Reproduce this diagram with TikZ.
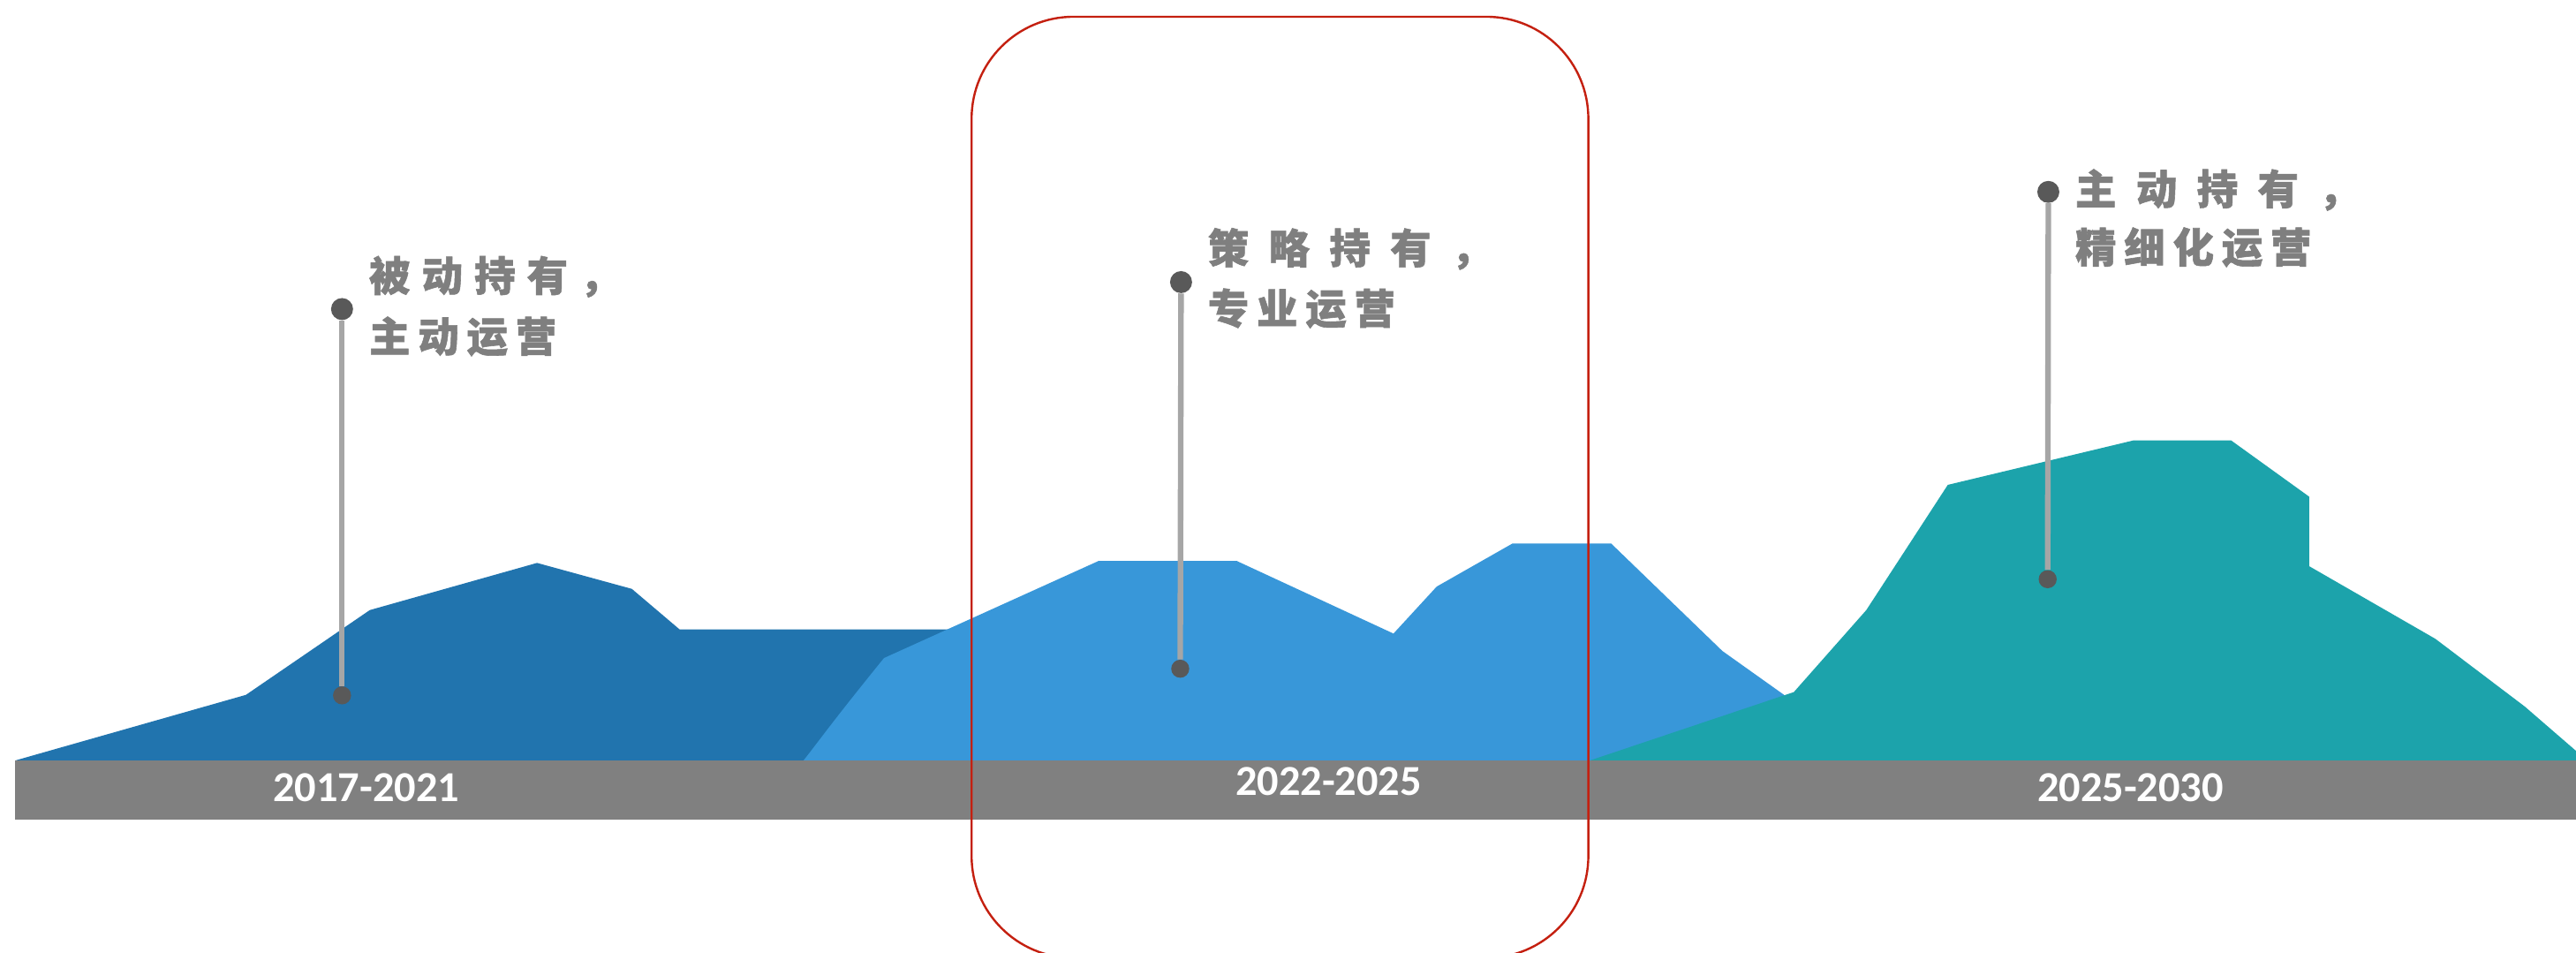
\documentclass[tikz,border=0pt]{standalone}
\usepackage{fontspec}
\newfontfamily\cjk{Noto Sans CJK SC}[BoldFeatures={FakeBold=1.2}]
\newfontfamily\yearfont{Carlito}
\definecolor{darkblue}{HTML}{2174AE}
\definecolor{lightblue}{HTML}{3897D9}
\definecolor{teal}{HTML}{1CA3AB}
\definecolor{bargray}{HTML}{808080}
\definecolor{pingray}{HTML}{A6A6A6}
\definecolor{dotgray}{HTML}{595959}
\definecolor{txtgray}{HTML}{7F7F7F}
\definecolor{framered}{HTML}{C42010}
\newlength\cjkgap
\newcommand\cg{\hspace{\cjkgap}}
\begin{document}
\begin{tikzpicture}[x=1pt,y=-1pt,
  cjktext/.style={text=txtgray, font=\cjk\bfseries\fontsize{25pt}{25pt}\selectfont, inner sep=0pt, anchor=west},
  yeartext/.style={text=white, font=\yearfont\bfseries\fontsize{26pt}{26pt}\selectfont, inner sep=0pt},
  pinline/.style={draw=pingray, line width=3.4pt},
  topdot/.style={circle, fill=dotgray, minimum size=13.4pt, inner sep=0pt},
  botdot/.style={circle, fill=dotgray, minimum size=11pt, inner sep=0pt},
  redframe/.style={draw=framered, line width=1.3pt, rounded corners=62pt}]
\useasboundingbox (0,0) rectangle (1568,580);
\clip (0,0) rectangle (1568,580);
% mountains
\fill[darkblue] (9.4,462.8) -- (149.7,422.9) -- (225.1,371.3) -- (326.9,342.6) -- (384.6,358.4) -- (413.7,383.1) -- (592,383.1) -- (592,462.8) -- cycle;
\fill[lightblue] (489.1,462.8) .. controls (497,453) and (506,440) .. (538.1,400.5) -- (668.7,341.4) -- (752.8,341.4) -- (848.2,385.6) -- (874.5,357) -- (920.6,330.8) -- (980.7,330.8) -- (1048.4,396.2) -- (1085.5,422.6) -- (1092,428) -- (1092,462.8) -- cycle;
\fill[teal] (967.9,462.8) -- (1091.9,421.2) -- (1136,371.3) -- (1164,328.3) -- (1185.6,295.1) -- (1298.8,268) -- (1358,268) -- (1405.6,302.3) -- (1405.6,344.6) -- (1482.4,388.8) -- (1536.8,430) -- (1568,457) -- (1568,462.8) -- cycle;
% bar
\fill[bargray] (9.4,462.8) rectangle (1568,498.7);
% years
\node[yeartext] (y1) at (222.9,479.3) {2017-2021};
\node[yeartext] (y2) at (808.7,475.5) {2022-2025};
\node[yeartext] (y3) at (1296.8,479.4) {2025-2030};
% pins
\node[topdot] (p1t) at (208.2,188.1) {};
\node[botdot] (p1b) at (208.2,423.2) {};
\draw[pinline] (p1t) -- (p1b);
\node[topdot] (p2t) at (718.9,171.7) {};
\node[botdot] (p2b) at (718.4,407) {};
\draw[pinline] (p2t) -- (p2b);
\node[topdot] (p3t) at (1246.8,116.8) {};
\node[botdot] (p3b) at (1246.4,352.5) {};
\draw[pinline] (p3t) -- (p3b);
% labels
\node[cjktext] (l1a) at (224.5,168.4) {\setlength\cjkgap{7pt}被\cg 动\cg 持\cg 有\cg ，};
\node[cjktext] (l1b) at (224.5,204.8) {\setlength\cjkgap{4.7pt}主\cg 动\cg 运\cg 营};
\node[cjktext] (l2a) at (735,151.5) {\setlength\cjkgap{12pt}策\cg 略\cg 持\cg 有\cg ，};
\node[cjktext] (l2b) at (735,187.7) {\setlength\cjkgap{4.7pt}专\cg 业\cg 运\cg 营};
\node[cjktext] (l3a) at (1263,115.6) {\setlength\cjkgap{12pt}主\cg 动\cg 持\cg 有\cg ，};
\node[cjktext] (l3b) at (1263,150.5) {\setlength\cjkgap{4.7pt}精\cg 细\cg 化\cg 运\cg 营};
% red frame
\draw[redframe] (591.4,10.2) rectangle (966.8,583);
\end{tikzpicture}
\end{document}
